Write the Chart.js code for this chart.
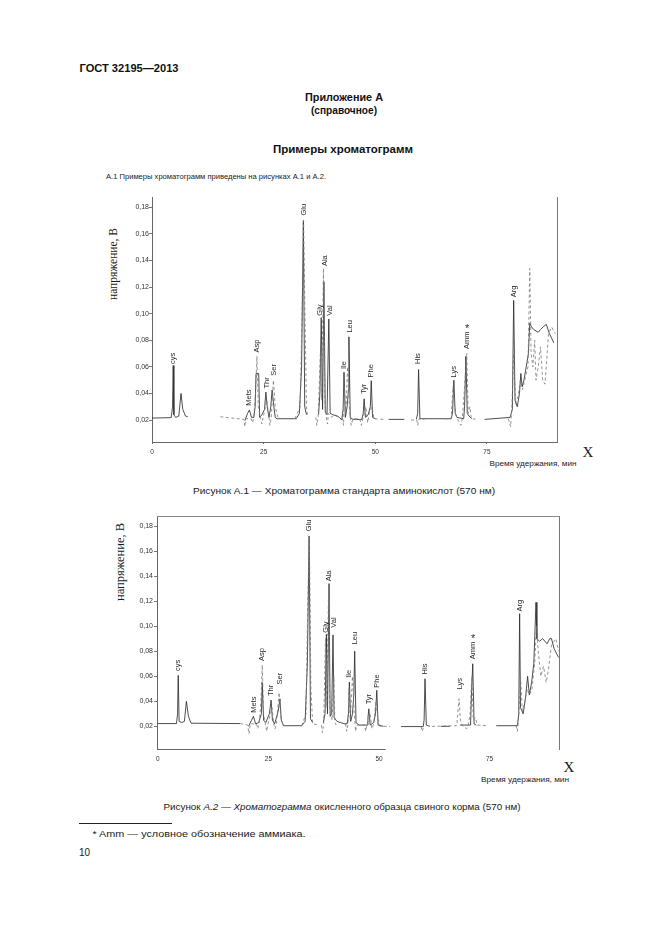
<!DOCTYPE html>
<html>
<head>
<meta charset="utf-8">
<script src="https://cdn.jsdelivr.net/npm/chart.js@4.4.1/dist/chart.umd.min.js"></script>
<style>
  body { margin: 0; background: #fff; width: 661px; height: 935px; position: relative; overflow: hidden;
         font-family: "Liberation Sans", Arial, sans-serif; color: #1a1a1a; }
  .t { position: absolute; white-space: nowrap; line-height: 1; }
  .b { font-weight: bold; color: #111; }
  .serif { font-family: "Liberation Serif", "Times New Roman", serif; }
  .box { position: absolute; }
  .rule { position: absolute; left: 79px; top: 823px; width: 93px; height: 1px; background: #222; }
</style>
</head>
<body>

<div class="t b" style="font-size:11px" data-cx="128.5" data-cy="68" data-w="99">ГОСТ 32195—2013</div>
<div class="t b" style="font-size:10px" data-cx="344" data-cy="98" data-w="78">Приложение А</div>
<div class="t b" style="font-size:10px" data-cx="344" data-cy="111" data-w="66">(справочное)</div>
<div class="t b" style="font-size:11px" data-cx="343" data-cy="149" data-w="140">Примеры хроматограмм</div>
<div class="t" style="font-size:8px" data-cx="216" data-cy="177" data-w="220">А.1 Примеры хроматограмм приведены на рисунках А.1 и А.2.</div>

<div class="t serif" style="font-size:13px" data-cx="112" data-cy="264" data-w="72" data-rot="1">напряжение, В</div>
<div class="t serif" style="font-size:15px" data-cx="588" data-cy="452">X</div>
<div class="t" style="font-size:8px" data-cx="533" data-cy="464" data-w="87">Время удержания, мин</div>
<div class="t" style="font-size:9.5px" data-cx="344" data-cy="491" data-w="302">Рисунок А.1 — Хроматограмма стандарта аминокислот (570 нм)</div>

<div class="t serif" style="font-size:13px" data-cx="119" data-cy="562" data-w="78" data-rot="1">напряжение, В</div>
<div class="t serif" style="font-size:15px" data-cx="569" data-cy="767">X</div>
<div class="t" style="font-size:8px" data-cx="525" data-cy="780" data-w="88">Время удержания, мин</div>
<div class="t" style="font-size:9.5px" data-cx="341.5" data-cy="807" data-w="357">Рисунок <i>А.2</i> — <i>Хроматограмма</i> окисленного образца свиного корма (570 нм)</div>

<div class="rule"></div>
<div class="t" style="font-size:8.5px" data-cx="198.5" data-cy="834" data-w="213">* Amm — условное обозначение аммиака.</div>
<div class="t" style="font-size:10px" data-cx="84.5" data-cy="853">10</div>

<div class="box" style="left:100px;top:185px"><canvas id="fig1" width="480" height="280"></canvas></div>
<div class="box" style="left:100px;top:505px"><canvas id="fig2" width="480" height="265"></canvas></div>

<script>
// axis ticks
const xTicks = [0, 25, 50, 75];
const xTickLabels = ['0', '25', '50', '75'];
const yTicks = [0.02, 0.04, 0.06, 0.08, 0.10, 0.12, 0.14, 0.16, 0.18];
const yTickLabels = ['0,02', '0,04', '0,06', '0,08', '0,10', '0,12', '0,14', '0,16', '0,18'];

// peak names (same order in both figures)
const peakNames = ['cys', 'Mets', 'Asp', 'Thr', 'Ser', 'Glu', 'Gly', 'Ala', 'Val', 'Ile', 'Leu', 'Tyr', 'Phe', 'His', 'Lys', 'Amm', 'Arg'];
const peakMarks = ['', '', '', '', '', '', '', '', '', '', '', '', '', '', '', '*', ''];

// figure A.1 — label anchors (min, V)
const fig1LabelT = [4.7, 21.8, 23.5, 25.7, 27.4, 34.1, 37.7, 38.8, 39.8, 43.0, 44.4, 47.5, 49.0, 59.6, 67.6, 70.6, 81.1];
const fig1LabelV = [0.0614, 0.030, 0.070, 0.043, 0.0526, 0.173, 0.0977, 0.135, 0.0977, 0.0576, 0.085, 0.0388, 0.0513, 0.0614, 0.0513, 0.0726, 0.1115];

// figure A.1 — solid trace [min, V]
const fig1Solid = [
  [0, 0.0215], [4.3, 0.0218], [4.6, 0.030], [4.75, 0.061], [4.9, 0.024], [5.3, 0.022], [6.0, 0.023],
  [6.5, 0.040], [6.9, 0.028], [7.5, 0.023], [8.0, 0.0225], [8.5, null],
  [20.8, 0.0195], [21.4, 0.025], [21.8, 0.0275], [22.3, 0.022], [22.8, 0.022], [23.1, 0.030], [23.3, 0.055],
  [23.9, 0.055], [24.1, 0.022], [24.6, 0.024], [25.2, 0.028], [25.5, 0.041], [25.8, 0.030], [26.2, 0.022],
  [26.6, 0.030], [26.9, 0.0426], [27.3, 0.030], [27.6, 0.022], [28.0, 0.021], [32.3, 0.021], [33.0, 0.025],
  [33.5, 0.060], [33.9, 0.170], [34.2, 0.030], [34.6, 0.024], [35.0, null],
  [37.3, 0.024], [37.6, 0.040], [37.9, 0.097], [38.2, 0.028], [38.5, 0.124], [38.8, 0.026], [39.2, 0.024],
  [39.6, 0.096], [39.9, 0.025], [40.5, 0.024], [41.5, 0.023], [42.0, 0.022], [42.5, 0.020], [42.8, 0.028],
  [43.0, 0.056], [43.3, 0.022], [43.7, 0.030], [44.0, 0.043], [44.1, 0.0826], [44.4, 0.022], [45.0, 0.0205],
  [47.0, 0.0205], [47.3, 0.025], [47.5, 0.036], [47.8, 0.022], [48.4, 0.024], [48.9, 0.030], [49.1, 0.0496],
  [49.4, 0.022], [50.0, 0.021], [51.0, null],
  [53.0, 0.0205], [56.5, 0.0205], [57.0, null],
  [59.2, 0.0205], [59.5, 0.025], [59.7, 0.058], [60.0, 0.021], [67.0, 0.021], [67.3, 0.025], [67.6, 0.050],
  [67.9, 0.025], [68.3, 0.022], [69.8, 0.021], [70.0, 0.030], [70.3, 0.068], [70.6, 0.025], [71.0, 0.023],
  [71.6, 0.021], [72.5, null],
  [74.5, 0.0205], [80.2, 0.022], [80.7, 0.028], [81.0, 0.110], [81.3, 0.035], [81.8, 0.030], [82.3, 0.040],
  [82.6, 0.055], [82.9, 0.045], [83.3, 0.050], [83.8, 0.060], [84.3, 0.070], [84.6, 0.093], [85.0, 0.090],
  [85.5, 0.088], [86.5, 0.086], [87.0, 0.088], [87.6, 0.090], [88.3, 0.092], [89.0, 0.085], [90.0, 0.078]
];

// figure A.1 — dashed trace [min, V]
const fig1Dash = [
  [15.3, 0.0225], [20.6, 0.0205], [20.8, 0.015], [21.0, 0.021], [22.2, 0.021], [22.5, 0.018], [22.8, 0.022],
  [23.2, 0.040], [23.5, 0.068], [23.8, 0.030], [24.3, 0.022], [24.6, 0.017], [24.9, 0.022], [25.7, 0.035],
  [26.2, 0.022], [26.4, 0.016], [26.7, 0.022], [27.2, 0.050], [27.6, 0.030], [28.2, 0.022], [28.5, null],
  [32.0, 0.021], [33.2, 0.030], [33.6, 0.100], [33.95, 0.170], [34.3, 0.090], [34.6, 0.030], [34.9, 0.022], [35.2, null],
  [36.7, 0.022], [36.9, 0.016], [37.2, 0.022], [37.7, 0.070], [38.0, 0.035], [38.4, 0.134], [38.7, 0.035],
  [39.1, 0.020], [39.3, 0.017], [39.5, 0.025], [40.1, 0.022], [41.0, 0.024], [41.6, 0.022], [42.0, null],
  [42.6, 0.022], [42.9, 0.016], [43.1, 0.045], [43.4, 0.025], [43.8, 0.060], [44.2, 0.030], [44.6, 0.016],
  [45.0, 0.021], [46.5, 0.021], [46.9, 0.016], [47.3, 0.022], [47.9, 0.030], [48.3, 0.018], [48.7, 0.026],
  [49.3, 0.030], [49.7, 0.021], [52.0, 0.0205], [52.5, null],
  [58.0, 0.020], [59.3, 0.020], [59.5, 0.016], [59.8, 0.021], [61.0, 0.0205], [61.5, null],
  [65.5, 0.021], [67.0, 0.021], [67.4, 0.045], [67.8, 0.030], [68.2, 0.022], [69.2, 0.016], [69.5, 0.021],
  [70.0, 0.045], [70.5, 0.070], [70.8, 0.025], [71.2, 0.030], [71.5, 0.021], [73.0, 0.0205], [73.5, null],
  [79.8, 0.021], [80.3, 0.015], [80.6, 0.030], [81.0, 0.070], [81.4, 0.032], [82.0, 0.038], [82.5, 0.050],
  [83.0, 0.043], [83.6, 0.052], [84.2, 0.060], [84.6, 0.134], [84.9, 0.070], [85.3, 0.060], [85.7, 0.080],
  [86.0, 0.050], [86.5, 0.060], [87.0, 0.075], [87.5, 0.050], [88.0, 0.047], [88.4, 0.065], [88.8, 0.085],
  [89.5, 0.090], [90.3, 0.085]
];

// figure A.2 — label anchors (min, V)
const fig2LabelT = [4.6, 21.7, 23.6, 25.6, 27.5, 34.2, 37.9, 38.7, 39.7, 43.2, 44.5, 47.8, 49.5, 60.4, 68.2, 71.3, 81.9];
const fig2LabelV = [0.0634, 0.030, 0.0714, 0.0434, 0.0527, 0.175, 0.094, 0.135, 0.098, 0.058, 0.0847, 0.0368, 0.050, 0.0607, 0.0488, 0.0727, 0.111];

// figure A.2 — solid trace [min, V]
const fig2Solid = [
  [0, 0.0222], [4.2, 0.0222], [4.45, 0.030], [4.6, 0.0607], [4.8, 0.024], [5.4, 0.023], [6.0, 0.024],
  [6.45, 0.040], [6.9, 0.028], [7.5, 0.0225], [18.6, 0.0222], [19.0, null],
  [20.5, 0.020], [21.2, 0.025], [21.6, 0.028], [22.1, 0.022], [22.8, 0.023], [23.4, 0.030], [23.6, 0.055],
  [23.9, 0.025], [24.4, 0.023], [25.2, 0.030], [25.6, 0.041], [25.9, 0.025], [26.4, 0.022], [27.2, 0.032],
  [27.6, 0.042], [27.9, 0.025], [28.4, 0.0205], [32.5, 0.0205], [33.3, 0.024], [33.8, 0.070], [34.2, 0.172],
  [34.5, 0.026], [35.0, 0.023], [35.5, null],
  [37.4, 0.023], [37.8, 0.030], [38.1, 0.0935], [38.35, 0.030], [38.7, 0.134], [38.95, 0.028], [39.3, 0.030],
  [39.6, 0.093], [39.85, 0.027], [40.5, 0.024], [41.3, 0.023], [42.3, 0.022], [42.8, 0.022], [43.1, 0.030],
  [43.3, 0.0554], [43.6, 0.024], [44.0, 0.030], [44.3, 0.045], [44.5, 0.080], [44.8, 0.023], [45.5, 0.021],
  [47.3, 0.021], [47.5, 0.027], [47.7, 0.034], [48.0, 0.021], [48.8, 0.023], [49.2, 0.030], [49.5, 0.0488],
  [49.8, 0.021], [51.0, 0.020], [51.5, null],
  [55.0, 0.0198], [60.0, 0.0198], [60.2, 0.025], [60.4, 0.058], [60.7, 0.021], [61.5, 0.020], [62.0, null],
  [64.0, 0.020], [66.0, 0.020], [66.5, null],
  [68.3, 0.021], [69.0, 0.021], [70.7, 0.021], [70.9, 0.045], [71.2, 0.070], [71.5, 0.022], [72.0, 0.021], [72.5, null],
  [76.5, 0.0205], [81.3, 0.0205], [81.6, 0.030], [81.8, 0.110], [82.0, 0.035], [82.6, 0.030], [83.2, 0.045],
  [83.6, 0.060], [84.0, 0.045], [84.5, 0.055], [85.0, 0.070], [85.5, 0.119], [85.7, 0.090], [86.3, 0.088],
  [87.0, 0.090], [88.0, 0.086], [88.6, 0.090], [89.0, 0.090], [89.6, 0.082], [90.6, 0.075]
];

// figure A.2 — dashed trace [min, V]
const fig2Dash = [
  [18.6, 0.0222], [20.3, 0.021], [20.6, 0.014], [20.9, 0.022], [22.3, 0.022], [22.6, 0.018], [22.9, 0.022],
  [23.3, 0.040], [23.6, 0.069], [23.9, 0.030], [24.3, 0.022], [24.6, 0.016], [24.9, 0.022], [25.8, 0.035],
  [26.2, 0.022], [26.5, 0.018], [26.8, 0.022], [27.4, 0.047], [27.8, 0.028], [28.3, 0.021], [28.6, null],
  [32.5, 0.0205], [33.5, 0.030], [33.9, 0.120], [34.25, 0.172], [34.6, 0.050], [35.0, 0.022], [36.5, 0.021], [36.8, null],
  [37.0, 0.021], [37.2, 0.015], [37.5, 0.022], [37.9, 0.090], [38.2, 0.035], [38.6, 0.130], [38.9, 0.035],
  [39.4, 0.025], [39.8, 0.060], [40.0, 0.025], [40.3, 0.021], [40.6, null],
  [42.4, 0.022], [42.7, 0.016], [43.0, 0.022], [43.2, 0.050], [43.5, 0.025], [44.0, 0.060], [44.4, 0.030],
  [44.7, 0.016], [45.0, 0.021], [46.8, 0.021], [47.0, 0.016], [47.3, 0.022], [48.0, 0.030], [48.4, 0.018],
  [48.8, 0.022], [49.3, 0.040], [49.8, 0.025], [50.3, 0.020], [52.5, 0.020], [53.0, null],
  [59.5, 0.0198], [59.8, 0.016], [60.1, 0.020], [60.4, null],
  [62.0, 0.020], [67.6, 0.0205], [67.8, 0.030], [68.1, 0.042], [68.4, 0.025], [68.8, 0.021], [69.8, 0.018],
  [70.2, 0.021], [70.6, 0.030], [71.0, 0.060], [71.3, 0.025], [71.8, 0.027], [72.2, 0.021], [74.5, 0.0205], [75.0, null],
  [81.0, 0.0205], [81.3, 0.016], [81.6, 0.028], [82.0, 0.060], [82.4, 0.032], [83.0, 0.040], [83.5, 0.050],
  [84.0, 0.045], [84.6, 0.050], [85.2, 0.070], [85.6, 0.100], [86.0, 0.080], [86.6, 0.060], [87.2, 0.068],
  [87.8, 0.055], [88.3, 0.065], [89.0, 0.085], [90.0, 0.090], [90.6, 0.080]
];

// bottom axis of fig. A.2 is drawn only up to this time
const fig2AxisEnd = 51.5;

Chart.defaults.font.family = '"Liberation Sans", Arial, sans-serif';
Chart.defaults.color = '#333';

const toXY = pts => pts.map(([x, y]) => ({ x, y }));

const peakLabels = {
  id: 'peakLabels',
  afterDatasetsDraw(chart, args, opts) {
    const { ctx, scales: { x, y } } = chart;
    ctx.save();
    ctx.fillStyle = '#2a2a2a';
    opts.times.forEach((t, i) => {
      const px = x.getPixelForValue(t);
      const py = y.getPixelForValue(opts.volts[i]);
      ctx.font = '7.5px "Liberation Sans", Arial, sans-serif';
      const w = ctx.measureText(peakNames[i]).width;
      ctx.save();
      ctx.translate(px, py);
      ctx.rotate(-Math.PI / 2);
      ctx.textAlign = 'left';
      ctx.textBaseline = 'middle';
      ctx.fillText(peakNames[i], 1, 0);
      ctx.restore();
      if (peakMarks[i]) {
        ctx.font = '11px "Liberation Sans", Arial, sans-serif';
        ctx.textAlign = 'center';
        ctx.textBaseline = 'alphabetic';
        ctx.fillText(peakMarks[i], px, py - w - 1);
      }
    });
    ctx.restore();
  }
};

const partialAxis = {
  id: 'partialAxis',
  afterDatasetsDraw(chart, args, opts) {
    if (!opts.until) return;
    const { ctx, chartArea, scales: { x } } = chart;
    ctx.save();
    ctx.strokeStyle = '#666';
    ctx.lineWidth = 1;
    ctx.beginPath();
    ctx.moveTo(chartArea.left, chartArea.bottom + 0.5);
    ctx.lineTo(x.getPixelForValue(opts.until), chartArea.bottom + 0.5);
    ctx.stroke();
    ctx.restore();
  }
};

function makeChart(id, solid, dash, labelT, labelV, ax) {
  const scales = {
    x: {
      type: 'linear', min: ax.xMin, max: ax.xMax,
      afterFit: s => { s.height = ax.xHeight; },
      afterBuildTicks: s => { s.ticks = xTicks.map(v => ({ value: v })); },
      ticks: { callback: (v, i) => xTickLabels[i], font: { size: 6.5 }, color: '#333', padding: ax.xPad, maxRotation: 0, autoSkip: false },
      grid: { display: ax.xGrid, drawOnChartArea: false, tickLength: 2, color: '#666' },
      border: { display: ax.xBorder, color: '#666', width: 1 }
    },
    y: {
      min: ax.yMin, max: ax.yMax,
      afterFit: s => { s.width = ax.yWidth; },
      afterBuildTicks: s => { s.ticks = yTicks.map(v => ({ value: v })); },
      ticks: { callback: (v, i) => yTickLabels[i], font: { size: 7 }, color: '#333', padding: ax.yPad, autoSkip: false },
      grid: { drawOnChartArea: false, tickLength: 3, color: '#777' },
      border: { color: '#666', width: 1, dash: ax.leftDash }
    },
    yR: {
      position: 'right', min: ax.yMin, max: ax.yMax,
      afterFit: s => { s.width = 0; },
      ticks: { display: false }, grid: { display: false },
      border: { color: '#777', width: 1, dash: ax.rightDash }
    }
  };
  if (ax.topLine) {
    scales.xT = {
      type: 'linear', position: 'top', min: ax.xMin, max: ax.xMax,
      afterFit: s => { s.height = 0; },
      ticks: { display: false }, grid: { display: false },
      border: { color: '#888', width: 1 }
    };
  }
  return new Chart(document.getElementById(id), {
    type: 'line',
    data: {
      datasets: [
        { data: toXY(dash), borderColor: '#7a7a7a', borderWidth: 0.8, borderDash: [3, 2.5], pointRadius: 0, tension: 0, spanGaps: false },
        { data: toXY(solid), borderColor: '#2e2e2e', borderWidth: 0.85, pointRadius: 0, tension: 0, spanGaps: false }
      ]
    },
    options: {
      responsive: false,
      animation: false,
      events: [],
      layout: { padding: { top: ax.padTop, right: ax.padRight, left: 0, bottom: 0 } },
      plugins: {
        legend: { display: false },
        tooltip: { enabled: false },
        peakLabels: { times: labelT, volts: labelV },
        partialAxis: { until: ax.axisEnd }
      },
      scales
    },
    plugins: [peakLabels, partialAxis]
  });
}

makeChart('fig1', fig1Solid, fig1Dash, fig1LabelT, fig1LabelV, {
  xMin: 0, xMax: 90.7, yMin: 0.0035, yMax: 0.1877,
  xHeight: 23, yWidth: 52, padTop: 12, padRight: 23, xPad: 4, yPad: 0,
  xGrid: true, xBorder: true, leftDash: [], rightDash: [], topLine: false, axisEnd: null
});

makeChart('fig2', fig2Solid, fig2Dash, fig2LabelT, fig2LabelV, {
  xMin: -0.2, xMax: 90.7, yMin: 0.0019, yMax: 0.188,
  xHeight: 21, yWidth: 57, padTop: 11, padRight: 21, xPad: 4, yPad: 1,
  xGrid: false, xBorder: false, leftDash: [1, 2], rightDash: [1, 2], topLine: true, axisEnd: fig2AxisEnd
});

// place page texts by their centres and fit them to the measured widths
document.querySelectorAll('.t').forEach(el => {
  const w = parseFloat(el.dataset.w);
  const s = w ? w / el.getBoundingClientRect().width : 1;
  el.style.left = el.dataset.cx + 'px';
  el.style.top = el.dataset.cy + 'px';
  el.style.transform = 'translate(-50%,-50%)' + (el.dataset.rot ? ' rotate(-90deg)' : '') + ' scaleX(' + s + ')';
});
</script>
</body>
</html>
